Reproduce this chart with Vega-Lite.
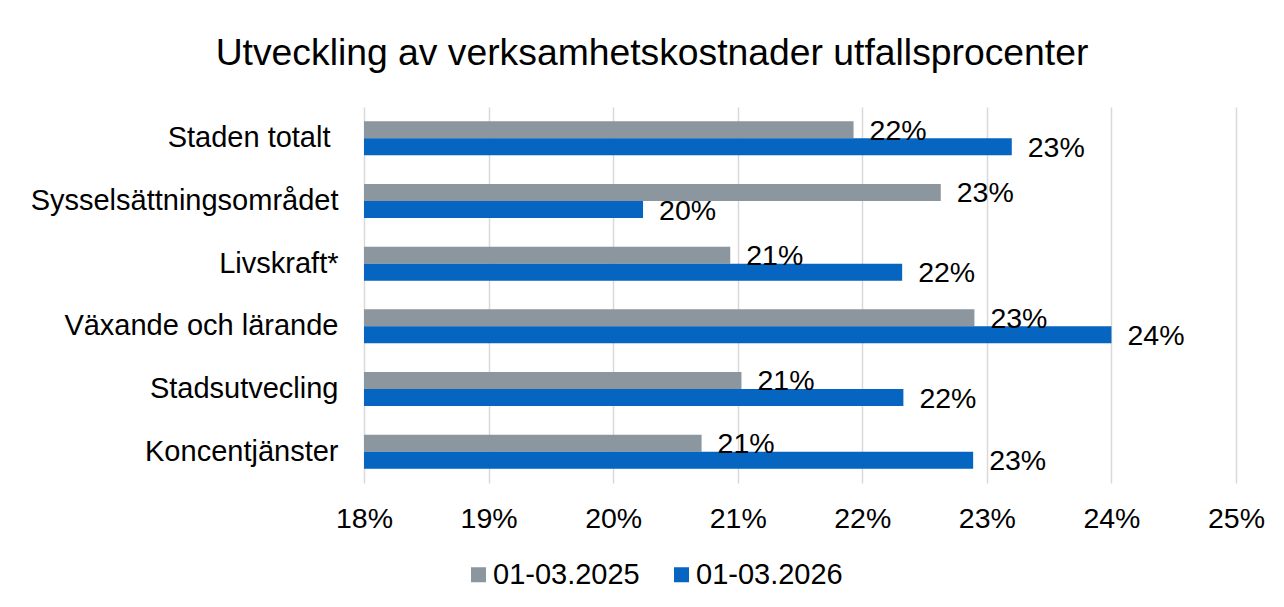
{
  "$schema": "https://vega.github.io/schema/vega-lite/v6.json",
  "autosize": {"type": "none"},
  "width": 872,
  "height": 376,
  "padding": {"left": 364, "top": 107, "right": 48, "bottom": 124},
  "background": "white",
  "config": {
    "font": "Liberation Sans",
    "view": {"stroke": null},
    "text": {"font": "Liberation Sans"}
  },
  "title": {
    "text": "Utveckling av verksamhetskostnader utfallsprocenter",
    "fontSize": 37.3,
    "fontWeight": "normal",
    "font": "Liberation Sans",
    "color": "#000000",
    "anchor": "middle",
    "dx": -148,
    "baseline": "alphabetic",
    "offset": 5
  },
  "data": {
    "values": [
      {"kategori": "Staden totalt", "period": "01-03.2025", "andel": 0.2193},
      {"kategori": "Staden totalt", "period": "01-03.2026", "andel": 0.2320},
      {"kategori": "Sysselsättningsområdet", "period": "01-03.2025", "andel": 0.2263},
      {"kategori": "Sysselsättningsområdet", "period": "01-03.2026", "andel": 0.2024},
      {"kategori": "Livskraft*", "period": "01-03.2025", "andel": 0.2094},
      {"kategori": "Livskraft*", "period": "01-03.2026", "andel": 0.2232},
      {"kategori": "Växande och lärande", "period": "01-03.2025", "andel": 0.2290},
      {"kategori": "Växande och lärande", "period": "01-03.2026", "andel": 0.2400},
      {"kategori": "Stadsutvecling", "period": "01-03.2025", "andel": 0.2103},
      {"kategori": "Stadsutvecling", "period": "01-03.2026", "andel": 0.2233},
      {"kategori": "Koncentjänster", "period": "01-03.2025", "andel": 0.2071},
      {"kategori": "Koncentjänster", "period": "01-03.2026", "andel": 0.2289}
    ]
  },
  "encoding": {
    "y": {
      "field": "kategori",
      "type": "nominal",
      "sort": null,
      "scale": {"paddingInner": 0.457, "paddingOuter": 0.2285},
      "axis": {
        "title": null,
        "domain": false,
        "ticks": false,
        "tickSize": 0,
        "labelPadding": {"condition": {"test": "datum.value === 'Staden totalt'", "value": 34}, "value": 26},
        "labelFontSize": 29,
        "labelColor": "#000000",
        "labelFont": "Liberation Sans",
        "labelLimit": 400
      }
    },
    "yOffset": {"field": "period", "type": "nominal", "sort": ["01-03.2025", "01-03.2026"]},
    "x": {
      "field": "andel",
      "type": "quantitative",
      "scale": {"domain": [0.18, 0.25], "zero": false, "nice": false},
      "axis": {
        "title": null,
        "values": [0.18, 0.19, 0.20, 0.21, 0.22, 0.23, 0.24, 0.25],
        "format": ".0%",
        "domain": false,
        "ticks": false,
        "tickSize": 0,
        "labelFlush": false,
        "labelPadding": 21,
        "labelFontSize": 28.5,
        "labelColor": "#000000",
        "labelFont": "Liberation Sans",
        "grid": true,
        "gridColor": "#d9d9d9",
        "gridWidth": 1.5
      }
    }
  },
  "layer": [
    {
      "mark": {"type": "bar"},
      "encoding": {
        "x2": {"datum": 0.18},
        "color": {
          "field": "period",
          "type": "nominal",
          "scale": {"domain": ["01-03.2025", "01-03.2026"], "range": ["#8b969e", "#0565c0"]},
          "legend": {
            "title": null,
            "orient": "none",
            "direction": "horizontal",
            "legendX": 100,
            "legendY": 453,
            "padding": 0,
            "symbolType": "square",
            "symbolSize": 225,
            "symbolStrokeWidth": 0,
            "labelFontSize": 29,
            "labelFont": "Liberation Sans",
            "labelColor": "#000000",
            "labelOffset": 0,
            "columnPadding": 27,
            "labelLimit": 400
          }
        }
      }
    },
    {
      "mark": {"type": "text", "align": "left", "baseline": "middle", "dx": 16, "dy": 1, "fontSize": 28.5, "font": "Liberation Sans", "color": "#000000"},
      "encoding": {
        "text": {"field": "andel", "type": "quantitative", "format": ".0%"}
      }
    }
  ]
}
